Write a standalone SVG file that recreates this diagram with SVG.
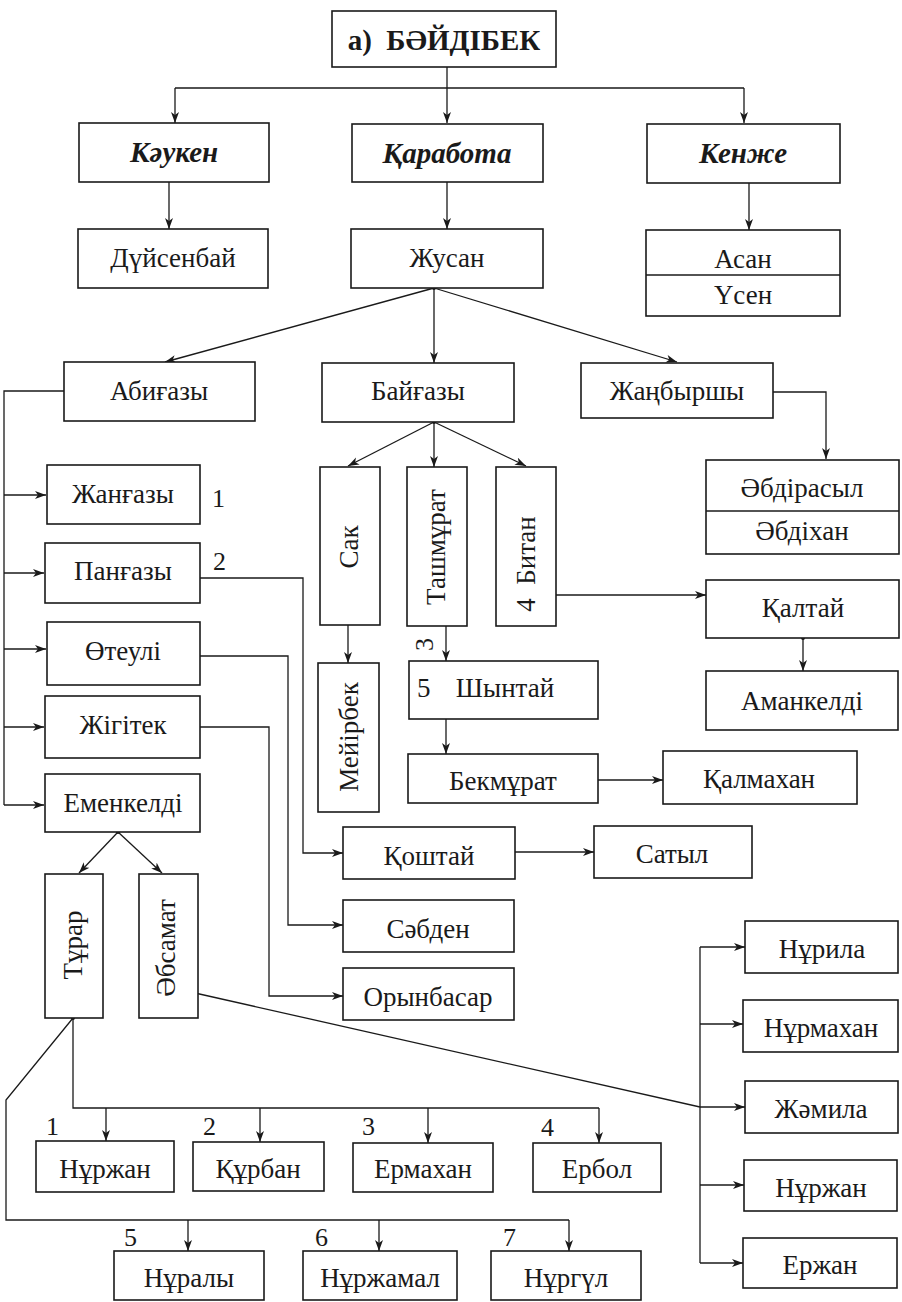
<svg xmlns="http://www.w3.org/2000/svg" width="902" height="1302" viewBox="0 0 902 1302">
<defs>
<marker id="ar" markerUnits="userSpaceOnUse" markerWidth="12" markerHeight="9" refX="11" refY="4" orient="auto">
<path d="M0,0 L11,4 L0,8 L3,4 Z" fill="#1a1a1a"/>
</marker>
</defs>
<style>
.b{fill:#fff;stroke:#1a1a1a;stroke-width:1.6}
.t{font-family:"Liberation Serif","Times New Roman","DejaVu Serif",serif;font-size:27px;fill:#1a1a1a;text-anchor:middle}
.n{font-family:"Liberation Serif","Times New Roman","DejaVu Serif",serif;font-size:26px;fill:#1a1a1a}
.bi{font-weight:bold;font-style:italic;font-size:29px}
.c{fill:none;stroke:#1a1a1a;stroke-width:1.3}
.a{marker-end:url(#ar)}
.d{fill:#1a1a1a}
</style>
<rect width="902" height="1302" fill="#fff"/>

<g id="connectors">
<path class="c" d="M447,67 V88 M175,88 H744"/>
<path class="c a" d="M175,88 V123"/>
<path class="c a" d="M447,88 V123"/>
<path class="c a" d="M744,88 V123"/>
<path class="c a" d="M169,182 V229"/>
<path class="c a" d="M447,182 V229"/>
<circle class="d" cx="749" cy="180" r="2"/>
<path class="c a" d="M749,180 V230"/>
<circle class="d" cx="434" cy="288" r="2"/>
<path class="c a" d="M434,288 L165,362"/>
<path class="c a" d="M434,288 V363"/>
<path class="c a" d="M434,288 L677,362"/>
<path class="c" d="M64,391 H4 V805"/>
<path class="c a" d="M4,495 H46"/>
<path class="c a" d="M4,573 H44"/>
<path class="c a" d="M4,649 H46"/>
<path class="c a" d="M4,727 H44"/>
<path class="c a" d="M4,805 H44"/>
<circle class="d" cx="434" cy="422" r="2"/>
<path class="c a" d="M434,422 L348,466"/>
<path class="c a" d="M434,422 V467"/>
<path class="c a" d="M434,422 L526,466"/>
<path class="c a" d="M773,392 H826 V459"/>
<path class="c a" d="M348,625 V663"/>
<path class="c a" d="M446,626 V661"/>
<path class="c a" d="M446,719 V754"/>
<path class="c a" d="M556,595 H706"/>
<circle class="d" cx="803" cy="638" r="2"/>
<path class="c a" d="M803,638 V671"/>
<path class="c a" d="M590,780 H663"/>
<circle class="d" cx="195" cy="578" r="2"/>
<path class="c a" d="M195,578 H303 V853 H343"/>
<circle class="d" cx="195" cy="656" r="2"/>
<path class="c a" d="M195,656 H288 V925 H343"/>
<circle class="d" cx="194" cy="727" r="2"/>
<path class="c a" d="M194,727 H269 V996 H343"/>
<circle class="d" cx="510" cy="852" r="2"/>
<path class="c a" d="M510,852 H594"/>
<circle class="d" cx="118" cy="832" r="2"/>
<path class="c a" d="M118,832 L79,873"/>
<path class="c a" d="M118,832 L162,873"/>
<circle class="d" cx="195" cy="993" r="2"/>
<path class="c" d="M195,993 L700,1107"/>
<path class="c" d="M700,947 V1263"/>
<path class="c a" d="M700,947 H745"/>
<path class="c a" d="M700,1024 H743"/>
<path class="c a" d="M700,1107 H745"/>
<path class="c a" d="M700,1185 H744"/>
<path class="c a" d="M700,1263 H743"/>
<circle class="d" cx="73" cy="1018" r="2"/>
<path class="c" d="M73,1018 V1108 H599"/>
<path class="c a" d="M106,1108 V1141"/>
<path class="c a" d="M260,1108 V1142"/>
<path class="c a" d="M428,1108 V1143"/>
<path class="c a" d="M599,1108 V1143"/>
<path class="c" d="M73,1018 L6,1100 V1220 H569"/>
<path class="c a" d="M188,1220 V1251"/>
<path class="c a" d="M379,1220 V1251"/>
<path class="c a" d="M569,1220 V1251"/>
</g>

<g id="title"><rect class="b" x="332" y="11" width="224" height="56"/><text class="t" x="444" y="50" style="font-weight:bold;font-size:29px" xml:space="preserve">а)  БӘЙДІБЕК</text></g>
<g id="kauken"><rect class="b" x="79" y="123" width="190" height="59"/><text class="t bi" x="174" y="162">Кәукен</text></g>
<g id="karabota"><rect class="b" x="352" y="124" width="191" height="58"/><text class="t bi" x="447" y="163">Қаработа</text></g>
<g id="kenzhe"><rect class="b" x="647" y="124" width="193" height="59"/><text class="t bi" x="743" y="163">Кенже</text></g>
<g id="duisenbai"><rect class="b" x="78" y="229" width="190" height="59"/><text class="t" x="173" y="267">Дүйсенбай</text></g>
<g id="zhusan"><rect class="b" x="351" y="229" width="192" height="59"/><text class="t" x="447" y="267">Жусан</text></g>
<g id="asan-usen"><rect class="b" x="646" y="230" width="194" height="86"/><line class="c" x1="646" y1="275" x2="840" y2="275"/><text class="t" x="743" y="268">Асан</text><text class="t" x="743" y="304">Үсен</text></g>
<g id="abigazy"><rect class="b" x="64" y="362" width="191" height="59"/><text class="t" x="159" y="400">Абиғазы</text></g>
<g id="baigazy"><rect class="b" x="322" y="363" width="192" height="59"/><text class="t" x="418" y="400">Байғазы</text></g>
<g id="zhanbyrshy"><rect class="b" x="581" y="363" width="192" height="55"/><text class="t" x="677" y="400">Жаңбыршы</text></g>
<g id="abdirasyl"><rect class="b" x="706" y="460" width="193" height="94"/><line class="c" x1="706" y1="511" x2="899" y2="511"/><text class="t" x="802" y="497">Әбдірасыл</text><text class="t" x="802" y="540">Әбдіхан</text></g>
<g id="zhangazy"><rect class="b" x="47" y="465" width="153" height="59"/><text class="t" x="123" y="503">Жанғазы</text><text class="n" x="212" y="507">1</text></g>
<g id="pangazy"><rect class="b" x="45" y="543" width="155" height="60"/><text class="t" x="123" y="580">Панғазы</text><text class="n" x="213" y="570">2</text></g>
<g id="oteuli"><rect class="b" x="47" y="622" width="153" height="63"/><text class="t" x="123" y="660">Өтеулі</text></g>
<g id="zhigitek"><rect class="b" x="45" y="696" width="155" height="62"/><text class="t" x="123" y="734">Жігітек</text></g>
<g id="emenkeldi"><rect class="b" x="45" y="774" width="155" height="58"/><text class="t" x="123" y="812">Еменкелді</text></g>
<g id="turar"><rect class="b" x="45" y="874" width="58" height="144"/><text class="t" transform="translate(82,945) rotate(-90)">Тұрар</text></g>
<g id="absamat"><rect class="b" x="139" y="874" width="59" height="144"/><text class="t" transform="translate(175,948) rotate(-90)">Әбсамат</text></g>
<g id="sak"><rect class="b" x="320" y="467" width="60" height="158"/><text class="t" transform="translate(358,547) rotate(-90)">Сак</text></g>
<g id="tashmurat"><rect class="b" x="407" y="467" width="60" height="159"/><text class="t" transform="translate(445,547) rotate(-90)">Ташмұрат</text><text class="n" transform="translate(433,651) rotate(-90)">3</text></g>
<g id="bitan"><rect class="b" x="496" y="467" width="60" height="159"/><text class="t" transform="translate(535,564) rotate(-90)" xml:space="preserve">4  Битан</text></g>
<g id="meirbek"><rect class="b" x="318" y="663" width="61" height="149"/><text class="t" transform="translate(358,737) rotate(-90)">Мейірбек</text></g>
<g id="shyntai"><rect class="b" x="409" y="661" width="189" height="58"/><text class="n" x="417" y="697" style="font-size:27px">5</text><text class="t" x="505" y="697">Шынтай</text></g>
<g id="bekmurat"><rect class="b" x="408" y="754" width="190" height="49"/><text class="t" x="503" y="790">Бекмұрат</text></g>
<g id="kalmakhan"><rect class="b" x="663" y="751" width="194" height="53"/><text class="t" x="759" y="788">Қалмахан</text></g>
<g id="kaltai"><rect class="b" x="706" y="580" width="193" height="58"/><text class="t" x="803" y="617">Қалтай</text></g>
<g id="amankeldi"><rect class="b" x="706" y="671" width="192" height="59"/><text class="t" x="802" y="710">Аманкелді</text></g>
<g id="koshtai"><rect class="b" x="343" y="827" width="172" height="52"/><text class="t" x="429" y="865">Қоштай</text></g>
<g id="satyl"><rect class="b" x="594" y="826" width="158" height="52"/><text class="t" x="672" y="863">Сатыл</text></g>
<g id="sabden"><rect class="b" x="343" y="900" width="171" height="52"/><text class="t" x="428" y="938">Сәбден</text></g>
<g id="orynbasar"><rect class="b" x="343" y="968" width="171" height="52"/><text class="t" x="428" y="1006">Орынбасар</text></g>
<g id="nurila"><rect class="b" x="745" y="921" width="153" height="52"/><text class="t" x="822" y="958">Нұрила</text></g>
<g id="nurmakhan"><rect class="b" x="743" y="1000" width="155" height="52"/><text class="t" x="821" y="1037">Нұрмахан</text></g>
<g id="zhamila"><rect class="b" x="745" y="1081" width="153" height="52"/><text class="t" x="821" y="1118">Жәмила</text></g>
<g id="nurzhan-2"><rect class="b" x="744" y="1160" width="153" height="51"/><text class="t" x="821" y="1197">Нұржан</text></g>
<g id="erzhan"><rect class="b" x="743" y="1238" width="154" height="50"/><text class="t" x="820" y="1274">Ержан</text></g>
<g id="nurzhan-1"><rect class="b" x="36" y="1141" width="138" height="51"/><text class="t" x="105" y="1178">Нұржан</text><text class="n" x="46" y="1135">1</text></g>
<g id="kurban"><rect class="b" x="193" y="1142" width="131" height="49"/><text class="t" x="258" y="1178">Құрбан</text><text class="n" x="203" y="1135">2</text></g>
<g id="ermakhan"><rect class="b" x="353" y="1143" width="140" height="49"/><text class="t" x="423" y="1178">Ермахан</text><text class="n" x="362" y="1135">3</text></g>
<g id="erbol"><rect class="b" x="533" y="1143" width="128" height="49"/><text class="t" x="597" y="1178">Ербол</text><text class="n" x="541" y="1136">4</text></g>
<g id="nuraly"><rect class="b" x="114" y="1251" width="150" height="49"/><text class="t" x="189" y="1287">Нұралы</text><text class="n" x="124" y="1246">5</text></g>
<g id="nurzhamal"><rect class="b" x="303" y="1251" width="154" height="49"/><text class="t" x="380" y="1287">Нұржамал</text><text class="n" x="315" y="1246">6</text></g>
<g id="nurgul"><rect class="b" x="491" y="1251" width="150" height="49"/><text class="t" x="566" y="1287">Нұргүл</text><text class="n" x="503" y="1246">7</text></g>
</svg>
